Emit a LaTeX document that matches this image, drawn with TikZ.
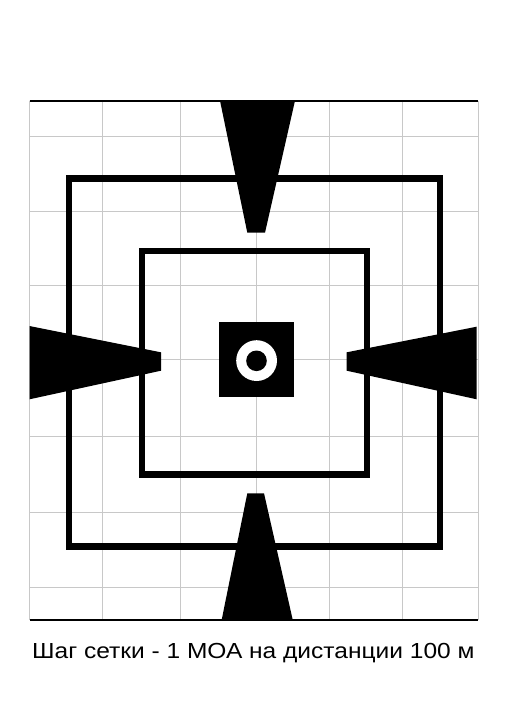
\documentclass[tikz,border=0pt]{standalone}
\usepackage{fontspec}
\setmainfont{Liberation Sans}
\begin{document}
\begin{tikzpicture}[x=1pt,y=-1pt,
  gridline/.style={draw={rgb,255:red,200;green,200;blue,200},line width=0.9pt},
  border/.style={draw=black,line width=1.6pt},
  frame/.style={draw=black,line width=6.9pt},
  wedge/.style={fill=black},
  caption/.style={font=\fontsize{21.8}{24}\selectfont,anchor=base,inner sep=0pt}]
\useasboundingbox (0,0) rectangle (504,720);
% grid
\foreach \gx in {29.5,102.5,180,256.7,329.7,402.7,478}
  \draw[gridline] (\gx,100.7) -- (\gx,619.7);
\foreach \gy in {136.7,211.7,285.5,359.5,436.7,512,587.3}
  \draw[gridline] (29.5,\gy) -- (478,\gy);
\draw[border] (29.5,100.7) -- (478,100.7);
\draw[border] (29.5,619.7) -- (478,619.7);
% squares
\draw[frame] (69,178.2) rectangle (440,546.8);
\draw[frame] (142,251) rectangle (367,474.5);
% wedges
\fill[wedge] (220,100.7) -- (295,100.7) -- (265,232.7) -- (247.3,232.7) -- cycle;
\fill[wedge] (247.3,493.3) -- (264,493.3) -- (292.7,619.7) -- (221.7,619.7) -- cycle;
\fill[wedge] (29.5,326) -- (161,352.3) -- (161,370.7) -- (29.5,399.3) -- cycle;
\fill[wedge] (476.7,326.7) -- (346.7,352.3) -- (346.7,370.7) -- (476.7,399.3) -- cycle;
% center target
\fill[black] (219.3,322.3) rectangle (294,396.7);
\fill[white] (256.6,360.6) circle (20.4);
\fill[black] (256.5,360.8) circle (10.3);
% caption
\node[caption] (cap) at (253.3,658.3) {\scalebox{1.125}[1]{Шаг сетки - 1 МОА на дистанции 100 м}};
\end{tikzpicture}
\end{document}
